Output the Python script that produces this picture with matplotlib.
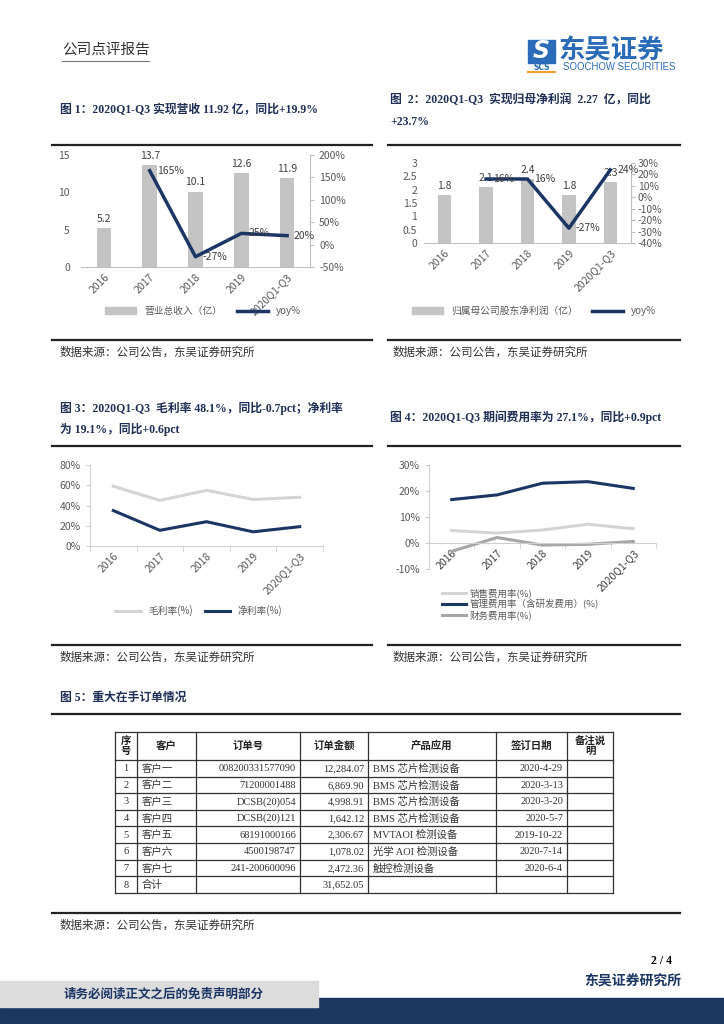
import numpy as np
import matplotlib
matplotlib.use('Agg')
import matplotlib.pyplot as plt
from matplotlib.ticker import PercentFormatter
from matplotlib.patches import Rectangle, Patch
from matplotlib.lines import Line2D

plt.rcParams['font.family'] = ['Noto Sans CJK SC', 'DejaVu Sans']
plt.rcParams['axes.unicode_minus'] = False

# ---- data ----
years = ['2016', '2017', '2018', '2019', '2020Q1-Q3']
revenue = [5.2, 13.7, 10.1, 12.6, 11.9]
revenue_yoy = [np.nan, 1.65, -0.27, 0.25, 0.20]
profit = [1.8, 2.1, 2.4, 1.8, 2.27]
profit_yoy = [np.nan, 0.16, 0.16, -0.27, 0.24]
gross_margin = [0.59, 0.45, 0.55, 0.46, 0.481]
net_margin = [0.35, 0.155, 0.24, 0.14, 0.191]
sell_rate = [0.048, 0.038, 0.050, 0.072, 0.055]
mgmt_rate = [0.167, 0.185, 0.230, 0.236, 0.210]
fin_rate = [-0.032, 0.021, -0.008, -0.005, 0.006]

tbl_header = ['序\n号', '客户', '订单号', '订单金额', '产品应用', '签订日期', '备注说\n明']
tbl_seq = ['1', '2', '3', '4', '5', '6', '7', '8']
tbl_customer = ['客户一', '客户二', '客户三', '客户四', '客户五', '客户六', '客户七', '合计']
tbl_order = ['008200331577090', '71200001488', 'DCSB(20)054', 'DCSB(20)121',
             '68191000166', '4500198747', '241-200600096', '']
tbl_amount = ['12,284.07', '6,869.90', '4,998.91', '1,642.12', '2,306.67',
              '1,078.02', '2,472.36', '31,652.05']
tbl_product = ['BMS 芯片检测设备', 'BMS 芯片检测设备', 'BMS 芯片检测设备', 'BMS 芯片检测设备',
               'MVTAOI 检测设备', '光学 AOI 检测设备', '触控检测设备', '']
tbl_date = ['2020-4-29', '2020-3-13', '2020-3-20', '2020-5-7', '2019-10-22',
            '2020-7-14', '2020-6-4', '']
tbl_note = [''] * 8

NAVY = '#1b3564'
BAR = '#c4c4c4'
LIGHT = '#d4d4d4'
MID = '#a6a6a6'
TICK = '#595959'
TITLE = '#1f2f57'
SERIF = ['Liberation Serif', 'Noto Sans CJK SC']

W, H = 724, 1024
fig = plt.figure(figsize=(W / 100, H / 100), dpi=100)


def pos(x0, y0, x1, y1):
    return [x0 / W, 1 - y1 / H, (x1 - x0) / W, (y1 - y0) / H]


def fxy(x, y):
    return (x / W, 1 - y / H)


# page layer in pixel coords
page = fig.add_axes([0, 0, 1, 1])
page.set_xlim(0, W)
page.set_ylim(H, 0)
page.axis('off')

# header
page.text(62, 50, '公司点评报告', fontsize=10.5, color='#333333', va='center')
page.plot([62, 149], [61, 61], color='#777777', lw=0.8)

# logo
page.add_patch(Rectangle((528, 40), 27, 23, color='#2a6cb8'))
page.text(541.5, 51.5, 'S', fontsize=17, color='white', fontweight='bold',
          ha='center', va='center', style='italic', family='DejaVu Sans')
page.text(541.5, 67, 'SCS', fontsize=5.5, color='#2a6cb8', fontweight='bold',
          ha='center', va='center', family='DejaVu Sans')
page.plot([528, 555], [71.5, 71.5], color='#f0a030', lw=1.5)
page.text(558, 51, '东吴证券', fontsize=19, color='#2a6cb8', fontweight='bold', va='center')
page.text(563, 67.5, 'SOOCHOW SECURITIES', fontsize=6.9, color='#2a6cb8', va='center',
          family='Liberation Sans')

# titles
tkw = dict(fontsize=8.5, color=TITLE, fontweight='bold', family=SERIF, va='center')
page.text(60, 110, '图 1：2020Q1-Q3 实现营收 11.92 亿，同比+19.9%', **tkw)
page.text(390, 100, '图  2：2020Q1-Q3  实现归母净利润  2.27  亿，同比', **tkw)
page.text(390, 122, '+23.7%', **tkw)
page.text(60, 408, '图 3：2020Q1-Q3  毛利率 48.1%，同比-0.7pct；净利率', **tkw)
page.text(60, 429, '为 19.1%，同比+0.6pct', **tkw)
page.text(390, 417, '图 4：2020Q1-Q3 期间费用率为 27.1%，同比+0.9pct', **tkw)
page.text(60, 698, '图 5：重大在手订单情况', **tkw)

# divider lines
for (xa, xb, y) in [(52, 372, 145), (388, 680, 145), (52, 372, 340), (388, 680, 340),
                    (52, 372, 446), (388, 680, 446), (52, 372, 645), (388, 680, 645),
                    (52, 680, 714), (52, 680, 913)]:
    page.plot([xa, xb], [y, y], color='#222222', lw=1.6)

skw = dict(fontsize=8.3, color='#333333', va='center')
for (sx, sy) in [(60, 352), (393, 352), (60, 657), (393, 657), (60, 925)]:
    page.text(sx, sy, '数据来源：公司公告，东吴证券研究所', **skw)

# footer
page.add_patch(Rectangle((0, 998), W, 26, color='#1b3760'))
page.add_patch(Rectangle((0, 981), 318, 26, color='#dcdcdc', zorder=3))
page.text(64, 994, '请务必阅读正文之后的免责声明部分', fontsize=9, color=NAVY,
          fontweight='bold', va='center', zorder=4)
page.text(681, 982, '东吴证券研究所', fontsize=10, color=NAVY, fontweight='bold',
          ha='right', va='center')
page.text(672, 961, '2 / 4', fontsize=8.5, color='black', fontweight='bold',
          ha='right', va='center', family=SERIF)

# table
cols = [115, 137, 196, 300, 368, 496, 567, 613]
row_top, head_bot, row_h = 732, 760, 16.6
n_rows = len(tbl_seq)
rows_y = [head_bot + i * row_h for i in range(n_rows + 1)]
for yy in [row_top] + rows_y:
    page.plot([cols[0], cols[-1]], [yy, yy], color='#333333', lw=0.9)
for xx in cols:
    page.plot([xx, xx], [row_top, rows_y[-1]], color='#333333', lw=0.9)
for j, h in enumerate(tbl_header):
    page.text((cols[j] + cols[j + 1]) / 2, (row_top + head_bot) / 2, h, fontsize=7.5,
              fontweight='bold', ha='center', va='center', color='#222222', linespacing=1.0)
columns = [tbl_seq, tbl_customer, tbl_order, tbl_amount, tbl_product, tbl_date, tbl_note]
aligns = ['center', 'left', 'right', 'right', 'left', 'right', 'left']
for j, (vals, al) in enumerate(zip(columns, aligns)):
    for i, v in enumerate(vals):
        if al == 'center':
            tx = (cols[j] + cols[j + 1]) / 2
        elif al == 'left':
            tx = cols[j] + 5
        else:
            tx = cols[j + 1] - 4
        page.text(tx, rows_y[i] + row_h / 2 + 0.5, v, fontsize=7.5, ha=al, va='center',
                  color='#333333', family=SERIF)


def style_axis(ax):
    for s in ['top', 'right', 'left']:
        ax.spines[s].set_visible(False)
    ax.spines['bottom'].set_color('#bfbfbf')
    ax.tick_params(axis='both', labelsize=7.5, labelcolor=TICK, length=0)


x = np.arange(len(years))

# ---- chart 1 ----
ax1 = fig.add_axes(pos(81, 155, 310, 267))
ax1.bar(x, revenue, width=0.32, color=BAR)
for xi, v in zip(x, revenue):
    ax1.annotate(f'{v:.1f}', (xi, v), xytext=(0, 3), textcoords='offset points',
                 ha='center', va='bottom', fontsize=7.5, color='#404040')
ax1.set_ylim(0, 15)
ax1.set_yticks([0, 5, 10, 15])
ax1.set_xlim(-0.5, 4.5)
ax1.set_xticks(x)
ax1.set_xticklabels(years, rotation=45, ha='right', rotation_mode='anchor')
style_axis(ax1)
ax1.tick_params(axis='y', pad=8)
ax1b = ax1.twinx()
ax1b.plot(x, revenue_yoy, color=NAVY, lw=2.5)
for xi, v in zip(x, revenue_yoy):
    if not np.isnan(v):
        ax1b.annotate(f'{v:.0%}', (xi, v), xytext=(5, 0), textcoords='offset points',
                      ha='left', va='center', fontsize=7.5, color='#404040')
ax1b.set_ylim(-0.5, 2.0)
ax1b.set_yticks([-0.5, 0, 0.5, 1.0, 1.5, 2.0])
ax1b.yaxis.set_major_formatter(PercentFormatter(1.0, decimals=0))
for s in ['top', 'left', 'bottom']:
    ax1b.spines[s].set_visible(False)
ax1b.spines['right'].set_color('#bfbfbf')
ax1b.tick_params(axis='y', labelsize=7.5, labelcolor=TICK, color='#bfbfbf', length=3)
ax1.legend([Patch(color=BAR), Line2D([], [], color=NAVY, lw=2.5)],
           ['营业总收入（亿）', 'yoy%'], loc='center', bbox_to_anchor=fxy(203, 311),
           bbox_transform=fig.transFigure, ncol=2, frameon=False, fontsize=7,
           handlelength=3.2, columnspacing=1.5, labelcolor=TICK)

# ---- chart 2 ----
ax2 = fig.add_axes(pos(424, 163, 631, 243))
ax2.bar(x, profit, width=0.32, color=BAR)
for xi, v in zip(x, profit):
    ax2.annotate(f'{v:.1f}', (xi, v), xytext=(0, 3), textcoords='offset points',
                 ha='center', va='bottom', fontsize=7.5, color='#404040')
ax2.set_ylim(0, 3)
ax2.set_yticks([0, 0.5, 1, 1.5, 2, 2.5, 3])
ax2.set_yticklabels(['0', '0.5', '1', '1.5', '2', '2.5', '3'])
ax2.set_xlim(-0.5, 4.5)
ax2.set_xticks(x)
ax2.set_xticklabels(years, rotation=45, ha='right', rotation_mode='anchor')
style_axis(ax2)
ax2.tick_params(axis='y', pad=5)
ax2b = ax2.twinx()
ax2b.plot(x, profit_yoy, color=NAVY, lw=2.5)
for xi, v in zip(x, profit_yoy):
    if not np.isnan(v):
        ax2b.annotate(f'{v:.0%}', (xi, v), xytext=(5, 0), textcoords='offset points',
                      ha='left', va='center', fontsize=7.5, color='#404040')
ax2b.set_ylim(-0.4, 0.3)
ax2b.set_yticks([-0.4, -0.3, -0.2, -0.1, 0, 0.1, 0.2, 0.3])
ax2b.yaxis.set_major_formatter(PercentFormatter(1.0, decimals=0))
for s in ['top', 'left', 'bottom']:
    ax2b.spines[s].set_visible(False)
ax2b.spines['right'].set_color('#bfbfbf')
ax2b.tick_params(axis='y', labelsize=7.5, labelcolor=TICK, color='#bfbfbf', length=3, pad=2)
ax2.legend([Patch(color=BAR), Line2D([], [], color=NAVY, lw=2.5)],
           ['归属母公司股东净利润（亿）', 'yoy%'], loc='center', bbox_to_anchor=fxy(534, 311),
           bbox_transform=fig.transFigure, ncol=2, frameon=False, fontsize=7,
           handlelength=3.2, columnspacing=1.5, labelcolor=TICK)

# ---- chart 3 ----
ax3 = fig.add_axes(pos(90, 465, 323, 546))
ax3.plot(x, gross_margin, color=LIGHT, lw=2.2)
ax3.plot(x, net_margin, color=NAVY, lw=2.2)
ax3.set_ylim(0, 0.8)
ax3.set_yticks([0, 0.2, 0.4, 0.6, 0.8])
ax3.yaxis.set_major_formatter(PercentFormatter(1.0, decimals=0))
ax3.set_xlim(-0.5, 4.5)
ax3.set_xticks(x)
ax3.set_xticklabels(years, rotation=45, ha='right', rotation_mode='anchor')
for s in ['top', 'right']:
    ax3.spines[s].set_visible(False)
for s in ['left', 'bottom']:
    ax3.spines[s].set_color('#d0d0d0')
ax3.tick_params(axis='both', labelsize=7.5, labelcolor=TICK, length=0)
ax3.tick_params(axis='y', length=3, color='#d0d0d0')
ax3.set_xticks(np.arange(-0.5, 5, 1), minor=True)
ax3.tick_params(axis='x', which='minor', length=4, color='#d0d0d0')
ax3.legend([Line2D([], [], color=LIGHT, lw=2.2), Line2D([], [], color=NAVY, lw=2.2)],
           ['毛利率(%)', '净利率(%)'], loc='center', bbox_to_anchor=fxy(199, 611),
           bbox_transform=fig.transFigure, ncol=2, frameon=False, fontsize=7,
           handlelength=2.6, columnspacing=1.2, labelcolor=TICK)

# ---- chart 4 ----
ax4 = fig.add_axes(pos(429, 465, 656, 569))
ax4.plot(x, sell_rate, color=LIGHT, lw=2.2)
ax4.plot(x, mgmt_rate, color=NAVY, lw=2.2)
ax4.plot(x, fin_rate, color=MID, lw=2.2)
ax4.spines['bottom'].set_position(('data', 0))
ax4.set_ylim(-0.1, 0.3)
ax4.set_yticks([-0.1, 0, 0.1, 0.2, 0.3])
ax4.yaxis.set_major_formatter(PercentFormatter(1.0, decimals=0))
ax4.set_xlim(-0.5, 4.5)
ax4.set_xticks(x)
ax4.set_xticklabels(years, rotation=45, ha='right', rotation_mode='anchor')
for s in ['top', 'right']:
    ax4.spines[s].set_visible(False)
for s in ['left', 'bottom']:
    ax4.spines[s].set_color('#d0d0d0')
ax4.tick_params(axis='both', labelsize=7.5, labelcolor=TICK, length=0)
ax4.tick_params(axis='x', labelcolor='#404040')
ax4.tick_params(axis='y', length=3, color='#d0d0d0')
ax4.set_xticks(np.arange(-0.5, 5, 1), minor=True)
ax4.tick_params(axis='x', which='minor', length=4, color='#d0d0d0')
ax4.legend([Line2D([], [], color=LIGHT, lw=2.2), Line2D([], [], color=NAVY, lw=2.2),
            Line2D([], [], color=MID, lw=2.2)],
           ['销售费用率(%)', '管理费用率（含研发费用）(%)', '财务费用率(%)'],
           loc='upper left', bbox_to_anchor=fxy(437, 584),
           bbox_transform=fig.transFigure, ncol=1, frameon=False, fontsize=6.8,
           handlelength=2.6, labelspacing=0.1, handletextpad=0.4, labelcolor=TICK,
           borderpad=0)

fig.savefig('out.png', dpi=100)
